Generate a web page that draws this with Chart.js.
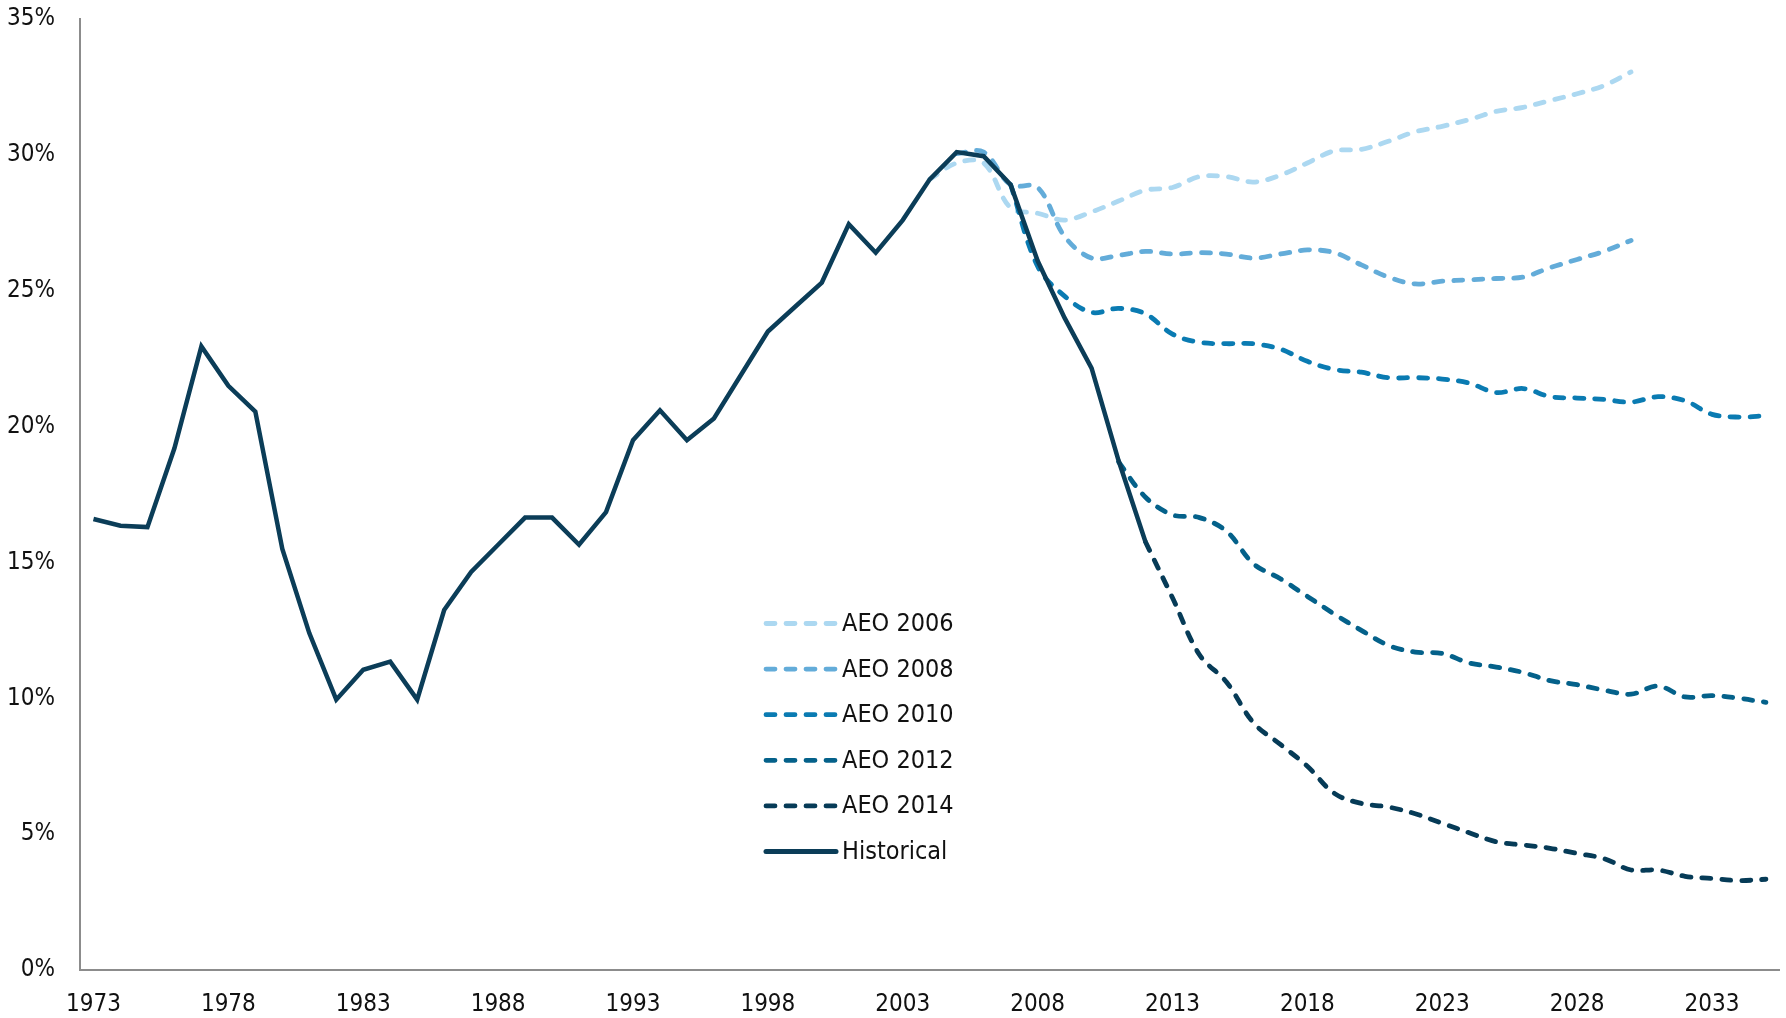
<!DOCTYPE html>
<html>
<head>
<meta charset="utf-8">
<script src="https://cdn.jsdelivr.net/npm/chart.js@4.4.1/dist/chart.umd.min.js"></script>
<style>
  html, body { margin: 0; padding: 0; background: #fff; }
  #wrap { width: 1786px; height: 1018px; position: relative; }
</style>
</head>
<body>
<div id="wrap"><canvas id="chart"></canvas></div>
<script>
// Categories: one per year
const firstYear = 1973;
const lastYear = 2035;
const years = [];
for (let y = firstYear; y <= lastYear; y++) years.push(String(y));

// Values (percent), each list starts at its own year
const historicalStart = 1973;
const historical = [16.6, 16.35, 16.3, 19.2, 22.95, 21.5, 20.55, 15.5, 12.4, 9.95,
  11.05, 11.35, 9.95, 13.25, 14.65, 15.65, 16.65, 16.65, 15.65, 16.85,
  19.5, 20.6, 19.5, 20.3, 21.9, 23.5, 24.4, 25.3, 27.45, 26.4,
  27.6, 29.1, 30.1, 29.95, 28.9, 26.1, 24.0, 22.15, 18.75, 15.75];

const aeo2006Start = 2004;
const aeo2006 = [29.1, 29.7, 29.7, 28.05, 27.85, 27.6, 27.9, 28.3, 28.7, 28.8,
  29.2, 29.2, 29.0, 29.25, 29.7, 30.15, 30.2, 30.5, 30.85, 31.05,
  31.3, 31.6, 31.75, 32.0, 32.25, 32.55, 33.05];

const aeo2008Start = 2005;
const aeo2008 = [30.05, 30.1, 28.9, 28.8, 27.0, 26.2, 26.3, 26.45, 26.35, 26.4,
  26.35, 26.2, 26.35, 26.5, 26.4, 25.95, 25.5, 25.25, 25.35, 25.4,
  25.45, 25.5, 25.85, 26.15, 26.45, 26.85];

const aeo2010Start = 2007;
const aeo2010 = [28.9, 25.9, 24.8, 24.2, 24.35, 24.15, 23.4, 23.1, 23.05, 23.05,
  22.85, 22.4, 22.1, 22.0, 21.8, 21.8, 21.75, 21.6, 21.25, 21.4,
  21.1, 21.05, 21.0, 20.9, 21.1, 20.95, 20.45, 20.35, 20.4];

const aeo2012Start = 2011;
const aeo2012 = [18.7, 17.4, 16.75, 16.65, 16.15, 14.95, 14.4, 13.75, 13.1, 12.5,
  11.95, 11.7, 11.65, 11.3, 11.15, 10.95, 10.65, 10.5, 10.3, 10.15,
  10.45, 10.05, 10.1, 10.0, 9.85];

const aeo2014Start = 2012;
const aeo2014 = [15.75, 13.7, 11.6, 10.6, 9.1, 8.3, 7.5, 6.5, 6.13, 6.0,
  5.75, 5.4, 5.05, 4.72, 4.6, 4.48, 4.29, 4.1, 3.68, 3.68,
  3.45, 3.37, 3.29, 3.34];

const yTicks = [0, 5, 10, 15, 20, 25, 30, 35];

const FONT = "'Liberation Sans Narrow', 'DejaVu Sans Condensed', 'Roboto Condensed', sans-serif";

// put a series on the year axis, null outside its range
function place(startYear, values) {
  return years.map(y => {
    const i = Number(y) - startYear;
    return i >= 0 && i < values.length ? values[i] : null;
  });
}

function projection(label, color, startYear, values, order) {
  return {
    label: label,
    data: place(startYear, values),
    borderColor: color,
    backgroundColor: color,
    borderWidth: 4.8,
    borderDash: [9, 11],
    borderCapStyle: 'round',
    tension: 0.35,
    pointRadius: 0,
    order: order
  };
}

const datasets = [
  projection('AEO 2006', '#acd8f1', aeo2006Start, aeo2006, 5),
  projection('AEO 2008', '#63acd9', aeo2008Start, aeo2008, 4),
  projection('AEO 2010', '#0a7bb2', aeo2010Start, aeo2010, 3),
  projection('AEO 2012', '#04618a', aeo2012Start, aeo2012, 2),
  projection('AEO 2014', '#063b57', aeo2014Start, aeo2014, 1),
  {
    label: 'Historical',
    data: place(historicalStart, historical),
    borderColor: '#0b3d58',
    backgroundColor: '#0b3d58',
    borderWidth: 4.5,
    tension: 0,
    pointRadius: 0,
    order: 0
  }
];

// Legend drawn inside the plot
const legendBox = {
  id: 'legendBox',
  afterDatasetsDraw(chart) {
    const { ctx, chartArea } = chart;
    const x0 = chartArea.left + 686;
    const y0 = chartArea.top + 604.5;
    const rowGap = 45.6;
    const lineLen = 70;
    ctx.save();
    ctx.font = '25px ' + FONT;
    ctx.textBaseline = 'middle';
    ctx.fillStyle = '#111';
    chart.data.datasets.forEach((ds, i) => {
      const y = y0 + i * rowGap;
      ctx.beginPath();
      ctx.strokeStyle = ds.borderColor;
      ctx.lineWidth = ds.borderDash ? ds.borderWidth : 5;
      ctx.lineCap = 'round';
      ctx.setLineDash(ds.borderDash || []);
      ctx.moveTo(x0, y);
      ctx.lineTo(x0 + lineLen, y);
      ctx.stroke();
      ctx.setLineDash([]);
      ctx.fillText(ds.label, x0 + lineLen + 6, y + 1);
    });
    ctx.restore();
  }
};

const ctx = document.getElementById('chart').getContext('2d');
new Chart(ctx, {
  type: 'line',
  data: { labels: years, datasets: datasets },
  options: {
    responsive: true,
    maintainAspectRatio: false,
    animation: false,
    layout: { padding: { top: 19, right: 6, left: 0, bottom: 0 } },
    plugins: {
      legend: { display: false },
      tooltip: { enabled: false }
    },
    scales: {
      x: {
        type: 'category',
        offset: true,
        grid: { display: false, drawTicks: false },
        border: { display: true, color: '#8c8c8c', width: 2 },
        afterFit: (scale) => { scale.height = 48; },
        ticks: {
          autoSkip: false,
          maxRotation: 0,
          padding: 20,
          color: '#111',
          font: { size: 24, family: FONT },
          callback: function (value) {
            const yr = Number(this.getLabelForValue(value));
            return (yr - firstYear) % 5 === 0 ? String(yr) : '';
          }
        }
      },
      y: {
        min: yTicks[0],
        max: yTicks[yTicks.length - 1],
        grid: { display: false, drawTicks: false },
        border: { display: true, color: '#8c8c8c', width: 2 },
        afterFit: (scale) => {
          scale.width = 80;
          scale.paddingTop = 0;
          scale.paddingBottom = 0;
        },
        afterBuildTicks: (scale) => { scale.ticks = yTicks.map(v => ({ value: v })); },
        ticks: {
          padding: 25,
          color: '#111',
          font: { size: 24, family: FONT },
          callback: (v) => v + '%'
        }
      }
    }
  },
  plugins: [legendBox]
});
</script>
</body>
</html>
